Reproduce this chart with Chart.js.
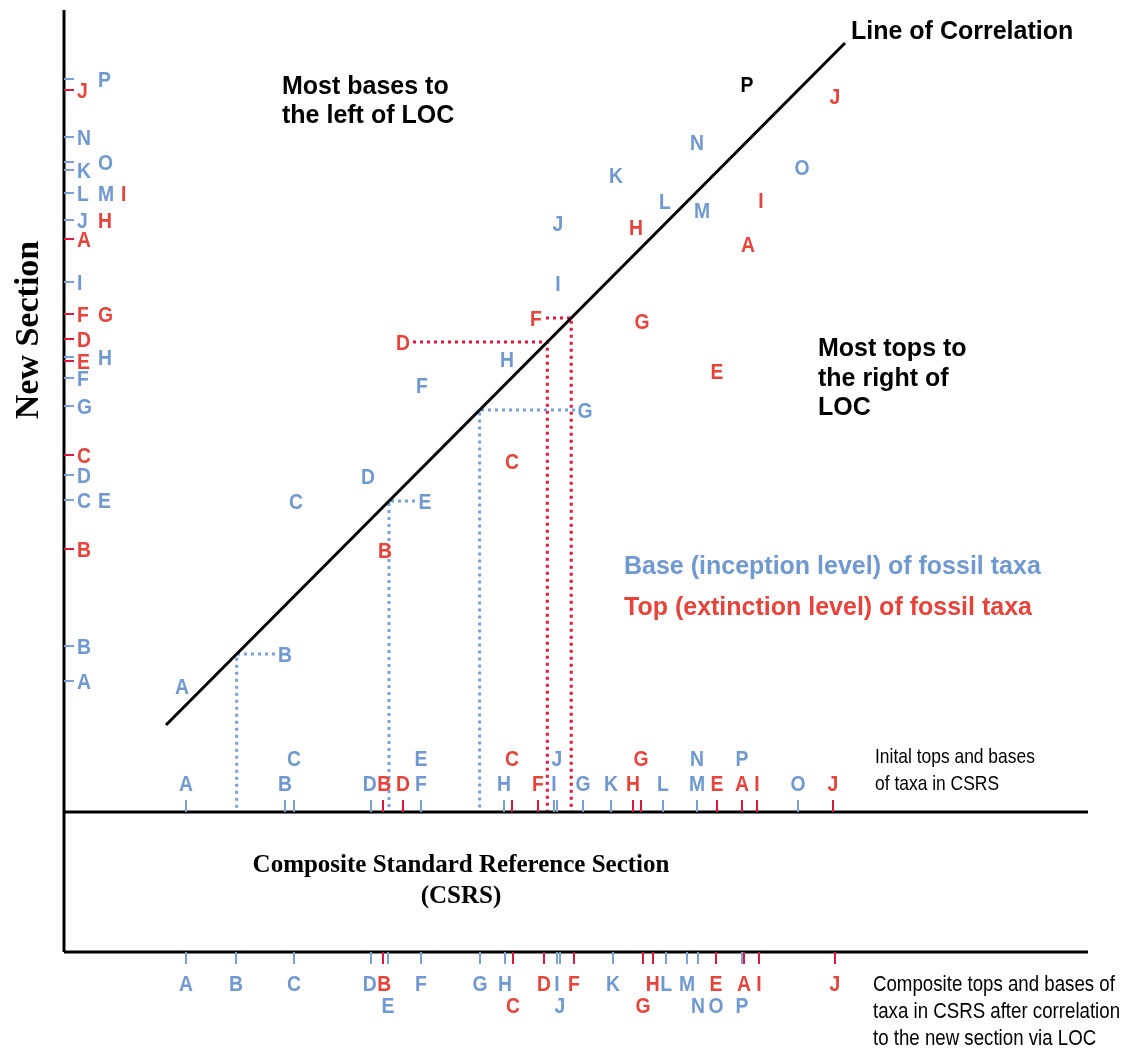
<!DOCTYPE html>
<html>
<head>
<meta charset="utf-8">
<script src="https://cdn.jsdelivr.net/npm/chart.js@4.4.1/dist/chart.umd.min.js"></script>
<style>
  html, body { margin: 0; padding: 0; background: #fff; }
  canvas { display: block; }
</style>
</head>
<body>
<canvas id="canvas" width="1122" height="1050"></canvas>
<script>
// taxa plotted in the cross plot: x = level in CSRS, y = level in new section
const baseTaxa = ['A','B','C','D','E','F','G','H','I','J','K','L','M','N','O','P'];
const baseCsrs = [118,221,232,304,361,358,521,443,494,494,552,601,638,633,738,683];
const baseNew  = [126,158,311,336,311,427,402,453,529,589,637,611,602,670,645,728];
const topTaxa = ['A','B','C','D','E','F','G','H','I','J'];
const topCsrs = [684,321,448,339,653,472,578,572,697,771];
const topNew  = [568,262,351,470,441,494,491,585,612,716];

// levels marked on the new section (vertical axis)
const baseNewTicks = [131,166,312,337,312,434,406,455,530,592,642,619,619,675,650,733];
const topNewTicks  = [573,263,357,473,451,498,498,592,619,722];
const baseNewLane = [0,0,0,0,1,0,0,1,0,0,0,0,1,0,1,1];
const topNewLane  = [0,0,0,0,0,0,1,1,2,0];

// initial tops and bases in CSRS
const baseInitial = [122,221,230,307,357,357,519,440,490,493,547,599,633,633,734,678];
const topInitial  = [678,319,448,339,653,474,577,569,693,769];
const baseInitialRow = [0,0,1,0,1,0,0,0,0,1,0,0,0,1,0,1];
const topInitialRow  = [0,0,1,0,0,0,1,0,0,0];

// composite tops and bases after correlation
const baseComposite = [122,172,230,307,324,357,416,441,493,496,549,602,623,634,652,678];
const topComposite  = [680,319,449,480,652,510,579,589,695,771];
const baseCompositeRow = [0,0,0,0,1,0,0,0,0,1,0,0,0,1,1,1];
const topCompositeRow  = [0,0,1,0,0,0,1,0,0,0];

const loc = [{x: 102, y: 87}, {x: 781, y: 769}];
const projectedBases = ['B','E','G'];
const projectedTops = ['D','F'];
const compositeLevel = -140;
const sectionTop = 802;
const axisEnd = 1024;

const BLUE = '#7098d1';
const RED = '#e6443b';
const BLUE_TICK = '#7aa0d8';
const RED_TICK = '#e0163f';

const SANS = '"Liberation Sans", Arial, sans-serif';
const SERIF = '"Liberation Serif", "Times New Roman", serif';

function locX(y) {
  return loc[0].x + (y - loc[0].y) * (loc[1].x - loc[0].x) / (loc[1].y - loc[0].y);
}

function projection(x, y, color) {
  const lx = locX(y);
  const start = x > lx ? x - 10 : x + 10;
  return {
    data: [{x: start, y: y}, {x: lx, y: y}, {x: lx, y: 0}],
    showLine: true, borderColor: color, borderWidth: 3, borderDash: [3, 4],
    borderCapStyle: 'butt', pointRadius: 0, tension: 0
  };
}

function solid(points) {
  return { data: points, showLine: true, borderColor: '#000', borderWidth: 3,
    pointRadius: 0, tension: 0, borderCapStyle: 'butt' };
}

const datasets = [
  solid([{x: 0, y: sectionTop}, {x: 0, y: compositeLevel}]),
  solid([{x: 0, y: 0}, {x: axisEnd, y: 0}]),
  solid([{x: 0, y: compositeLevel}, {x: axisEnd, y: compositeLevel}]),
  solid(loc)
];
projectedBases.forEach(t => {
  const i = baseTaxa.indexOf(t);
  datasets.push(projection(baseCsrs[i], baseNew[i], BLUE_TICK));
});
projectedTops.forEach(t => {
  const i = topTaxa.indexOf(t);
  datasets.push(projection(topCsrs[i], topNew[i], RED_TICK));
});

function spread(items, gap) {
  items.sort((a, b) => a.x - b.x);
  for (let k = 0; k < 30; k++) {
    let moved = false;
    for (let i = 1; i < items.length; i++) {
      const a = items[i - 1], b = items[i];
      const overlap = (a.x + a.w / 2 + gap) - (b.x - b.w / 2);
      if (overlap > 0.01) { a.x -= overlap / 2; b.x += overlap / 2; moved = true; }
    }
    if (!moved) break;
  }
}

// condensed text whose capitals are centred on cy
function label(ctx, text, x, cy, color, font, size, sx, align) {
  ctx.save();
  ctx.font = font.replace('#', size + 'px');
  ctx.fillStyle = color;
  ctx.textAlign = align || 'center';
  ctx.textBaseline = 'alphabetic';
  ctx.translate(x, cy + size * 0.36);
  ctx.scale(sx, 1);
  ctx.fillText(text, 0, 0);
  ctx.restore();
}

const drawer = {
  id: 'drawer',
  afterDatasetsDraw(chart) {
    const ctx = chart.ctx;
    const px = v => chart.scales.x.getPixelForValue(v);
    const py = v => chart.scales.y.getPixelForValue(v);
    const LF = 'bold # ' + SANS, LS = 22, LX = 0.88;
    const letter = (t, x, y, c, align) => label(ctx, t, x, y, c, LF, LS, LX, align);
    ctx.save();
    ctx.lineWidth = 2;

    // new section ticks: red first, blue over
    const lanes = [77, 98, 121];
    [[topNewTicks, RED_TICK], [baseNewTicks, BLUE_TICK]].forEach(([lv, tc]) => {
      ctx.strokeStyle = tc;
      lv.forEach(v => {
        ctx.beginPath(); ctx.moveTo(px(0), py(v)); ctx.lineTo(px(0) + 10, py(v)); ctx.stroke();
      });
    });
    topTaxa.forEach((t, i) => letter(t, lanes[topNewLane[i]], py(topNewTicks[i]), RED, 'left'));
    baseTaxa.forEach((t, i) => letter(t, lanes[baseNewLane[i]], py(baseNewTicks[i]), BLUE, 'left'));

    // horizontal sections
    ctx.font = 'bold ' + LS + 'px ' + SANS;
    function section(level, dir, rowOffsets, bases, baseRows, tops, topRows) {
      const y0 = py(level);
      [[bases, BLUE_TICK], [tops, RED_TICK]].forEach(([vals, tc]) => {
        ctx.strokeStyle = tc;
        vals.forEach(v => {
          ctx.beginPath(); ctx.moveTo(px(v), y0); ctx.lineTo(px(v), y0 + dir * 12); ctx.stroke();
        });
      });
      const rows = [[], []];
      baseTaxa.forEach((t, i) => rows[baseRows[i]].push({t, x: px(bases[i]), c: BLUE}));
      topTaxa.forEach((t, i) => rows[topRows[i]].push({t, x: px(tops[i]), c: RED}));
      rows.forEach((items, r) => {
        items.forEach(it => it.w = ctx.measureText(it.t).width * LX);
        spread(items, 0.5);
        items.forEach(it => letter(it.t, it.x, y0 + rowOffsets[r], it.c));
      });
    }
    section(0, -1, [-29, -54], baseInitial, baseInitialRow, topInitial, topInitialRow);
    section(compositeLevel, 1, [31, 53], baseComposite, baseCompositeRow, topComposite, topCompositeRow);

    // cross plot letters
    baseTaxa.forEach((t, i) => letter(t, px(baseCsrs[i]), py(baseNew[i]), t === 'P' ? '#000' : BLUE));
    topTaxa.forEach((t, i) => letter(t, px(topCsrs[i]), py(topNew[i]), RED));

    // annotations
    const BF = 'bold # ' + SANS;
    label(ctx, 'Line of Correlation', 851, 30, '#000', BF, 25, 1, 'left');
    label(ctx, 'Most bases to', 282, 85, '#000', BF, 25, 1, 'left');
    label(ctx, 'the left of LOC', 282, 114, '#000', BF, 25, 1, 'left');
    label(ctx, 'Most tops to', 818, 347, '#000', BF, 25, 1, 'left');
    label(ctx, 'the right of', 818, 377, '#000', BF, 25, 1, 'left');
    label(ctx, 'LOC', 818, 406, '#000', BF, 25, 1, 'left');
    label(ctx, 'Base (inception level) of fossil taxa', 624, 565, BLUE, BF, 25, 1, 'left');
    label(ctx, 'Top (extinction level) of fossil taxa', 624, 606, RED, BF, 25, 1, 'left');

    const RF = '# ' + SANS;
    label(ctx, 'Inital tops and bases', 875, 755, '#000', RF, 21, 0.83, 'left');
    label(ctx, 'of taxa in CSRS', 875, 782, '#000', RF, 21, 0.83, 'left');
    label(ctx, 'Composite tops and bases of', 873, 983, '#000', RF, 22.5, 0.83, 'left');
    label(ctx, 'taxa in CSRS after correlation', 873, 1010, '#000', RF, 22.5, 0.83, 'left');
    label(ctx, 'to the new section via LOC', 873, 1037, '#000', RF, 22.5, 0.83, 'left');

    ctx.fillStyle = '#000';
    ctx.font = 'bold 25px ' + SERIF;
    ctx.textAlign = 'center';
    ctx.textBaseline = 'alphabetic';
    ctx.fillText('Composite Standard Reference Section', 461, 872);
    ctx.fillText('(CSRS)', 461, 903);

    ctx.translate(27, 330);
    ctx.rotate(-Math.PI / 2);
    ctx.font = 'bold 34px ' + SERIF;
    ctx.fillText('New Section', 0, 11);
    ctx.restore();
  }
};

const ctx = document.getElementById('canvas').getContext('2d');
new Chart(ctx, {
  type: 'scatter',
  data: { datasets: datasets },
  options: {
    responsive: false,
    animation: false,
    events: [],
    layout: { padding: 0 },
    plugins: { legend: { display: false }, tooltip: { enabled: false } },
    scales: {
      x: { type: 'linear', min: -64, max: 1058, display: false },
      y: { type: 'linear', min: -238, max: 812, display: false }
    }
  },
  plugins: [drawer]
});
</script>
</body>
</html>
